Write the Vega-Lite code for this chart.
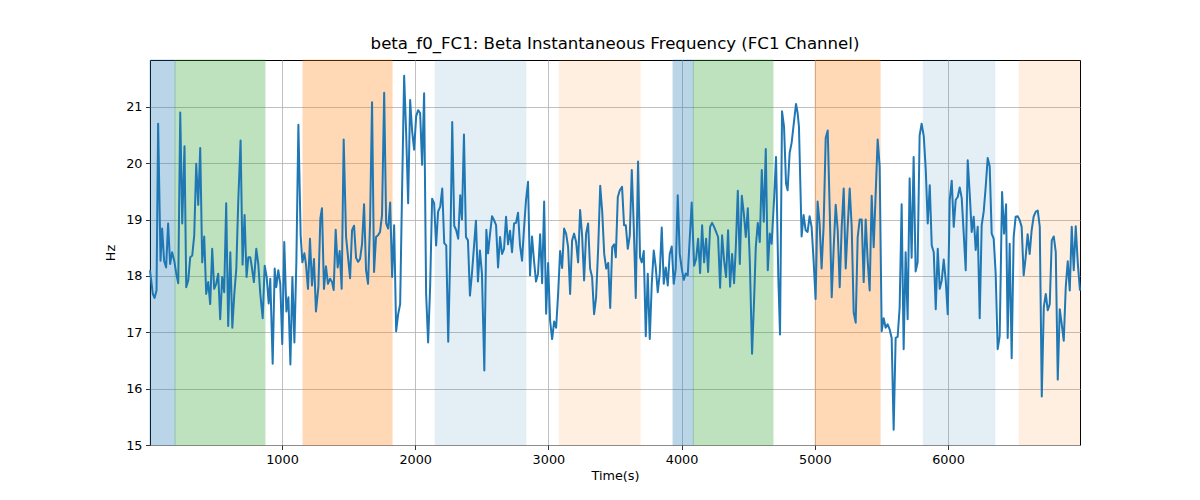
{
  "$schema": "https://vega.github.io/schema/vega-lite/v6.json",
  "autosize": "none",
  "width": 930,
  "height": 385,
  "padding": {"left": 150, "top": 60, "right": 120, "bottom": 55},
  "title": {
    "text": "beta_f0_FC1: Beta Instantaneous Frequency (FC1 Channel)",
    "font": "DejaVu Sans",
    "fontSize": 16.6,
    "fontWeight": "normal",
    "color": "black",
    "offset": 7
  },
  "datasets": {
    "spans": [
      {"start": 9, "end": 197, "stage": "s1"},
      {"start": 197, "end": 872, "stage": "s2"},
      {"start": 1158, "end": 1826, "stage": "s3"},
      {"start": 2149, "end": 2832, "stage": "s4"},
      {"start": 3080, "end": 3690, "stage": "s5"},
      {"start": 3936, "end": 4088, "stage": "s1"},
      {"start": 4088, "end": 4686, "stage": "s2"},
      {"start": 5002, "end": 5490, "stage": "s3"},
      {"start": 5813, "end": 6353, "stage": "s4"},
      {"start": 6533, "end": 6991, "stage": "s5"}
    ],
    "freq": [
      {"t": 9, "hz": 18.1}, {"t": 30, "hz": 17.68}, {"t": 43, "hz": 17.61}, {"t": 58, "hz": 17.74},
      {"t": 70, "hz": 20.7}, {"t": 88, "hz": 18.27}, {"t": 100, "hz": 18.84}, {"t": 115, "hz": 18.27},
      {"t": 130, "hz": 18.15}, {"t": 145, "hz": 18.93}, {"t": 160, "hz": 18.21}, {"t": 175, "hz": 18.42},
      {"t": 191, "hz": 18.27}, {"t": 206, "hz": 18.04}, {"t": 221, "hz": 17.87}, {"t": 236, "hz": 20.9},
      {"t": 251, "hz": 18.93}, {"t": 268, "hz": 20.3}, {"t": 281, "hz": 17.8}, {"t": 296, "hz": 17.92},
      {"t": 311, "hz": 18.33}, {"t": 326, "hz": 18.36}, {"t": 341, "hz": 18.72}, {"t": 356, "hz": 19.99},
      {"t": 371, "hz": 19.26}, {"t": 386, "hz": 20.27}, {"t": 401, "hz": 18.24}, {"t": 416, "hz": 18.7},
      {"t": 431, "hz": 17.68}, {"t": 446, "hz": 17.89}, {"t": 461, "hz": 17.5}, {"t": 476, "hz": 18.48},
      {"t": 491, "hz": 17.77}, {"t": 506, "hz": 17.86}, {"t": 521, "hz": 18.04}, {"t": 536, "hz": 17.23},
      {"t": 551, "hz": 17.98}, {"t": 566, "hz": 17.71}, {"t": 581, "hz": 19.29}, {"t": 596, "hz": 17.11},
      {"t": 612, "hz": 18.42}, {"t": 627, "hz": 17.08}, {"t": 642, "hz": 17.68}, {"t": 657, "hz": 18.13},
      {"t": 672, "hz": 19.35}, {"t": 689, "hz": 20.4}, {"t": 704, "hz": 18.2}, {"t": 719, "hz": 19.08},
      {"t": 734, "hz": 17.98}, {"t": 747, "hz": 18.33}, {"t": 762, "hz": 18.33}, {"t": 772, "hz": 18.18},
      {"t": 789, "hz": 17.89}, {"t": 807, "hz": 18.48}, {"t": 822, "hz": 18.21}, {"t": 837, "hz": 17.68},
      {"t": 855, "hz": 17.25}, {"t": 870, "hz": 18.18}, {"t": 885, "hz": 17.98}, {"t": 900, "hz": 17.51},
      {"t": 912, "hz": 17.95}, {"t": 930, "hz": 16.44}, {"t": 945, "hz": 18.13}, {"t": 957, "hz": 17.8},
      {"t": 972, "hz": 18.1}, {"t": 987, "hz": 17.86}, {"t": 1002, "hz": 16.79}, {"t": 1017, "hz": 18.6},
      {"t": 1033, "hz": 17.37}, {"t": 1048, "hz": 17.62}, {"t": 1063, "hz": 16.43}, {"t": 1078, "hz": 17.98},
      {"t": 1093, "hz": 16.82}, {"t": 1108, "hz": 18.27}, {"t": 1123, "hz": 20.68}, {"t": 1140, "hz": 18.72},
      {"t": 1153, "hz": 18.24}, {"t": 1168, "hz": 18.4}, {"t": 1180, "hz": 18.21}, {"t": 1195, "hz": 17.77},
      {"t": 1210, "hz": 18.66}, {"t": 1225, "hz": 17.83}, {"t": 1240, "hz": 18.3}, {"t": 1255, "hz": 17.37},
      {"t": 1273, "hz": 17.8}, {"t": 1288, "hz": 19.02}, {"t": 1300, "hz": 19.2}, {"t": 1315, "hz": 17.77},
      {"t": 1330, "hz": 18.17}, {"t": 1345, "hz": 17.86}, {"t": 1361, "hz": 17.95}, {"t": 1376, "hz": 17.89},
      {"t": 1388, "hz": 17.75}, {"t": 1403, "hz": 18.82}, {"t": 1418, "hz": 18.15}, {"t": 1433, "hz": 18.44},
      {"t": 1448, "hz": 17.77}, {"t": 1463, "hz": 20.42}, {"t": 1481, "hz": 18.69}, {"t": 1496, "hz": 18.33},
      {"t": 1511, "hz": 17.96}, {"t": 1526, "hz": 18.81}, {"t": 1541, "hz": 18.89}, {"t": 1556, "hz": 18.32},
      {"t": 1571, "hz": 18.25}, {"t": 1586, "hz": 18.3}, {"t": 1601, "hz": 18.57}, {"t": 1616, "hz": 19.27},
      {"t": 1631, "hz": 18.1}, {"t": 1646, "hz": 17.86}, {"t": 1661, "hz": 18.93}, {"t": 1676, "hz": 21.08},
      {"t": 1691, "hz": 18.07}, {"t": 1706, "hz": 18.69}, {"t": 1721, "hz": 18.72}, {"t": 1736, "hz": 18.78},
      {"t": 1751, "hz": 19.08}, {"t": 1767, "hz": 21.25}, {"t": 1782, "hz": 18.93}, {"t": 1797, "hz": 18.84},
      {"t": 1812, "hz": 19.3}, {"t": 1827, "hz": 17.98}, {"t": 1842, "hz": 18.9}, {"t": 1857, "hz": 17.02},
      {"t": 1872, "hz": 17.32}, {"t": 1887, "hz": 17.5}, {"t": 1902, "hz": 19.58}, {"t": 1917, "hz": 21.55},
      {"t": 1932, "hz": 20.54}, {"t": 1947, "hz": 19.29}, {"t": 1962, "hz": 21.12}, {"t": 1977, "hz": 20.57},
      {"t": 1992, "hz": 20.24}, {"t": 2007, "hz": 20.83}, {"t": 2022, "hz": 20.94}, {"t": 2037, "hz": 20.89},
      {"t": 2052, "hz": 19.97}, {"t": 2067, "hz": 21.24}, {"t": 2082, "hz": 17.68}, {"t": 2097, "hz": 16.82},
      {"t": 2112, "hz": 17.8}, {"t": 2127, "hz": 19.37}, {"t": 2142, "hz": 19.29}, {"t": 2157, "hz": 18.54},
      {"t": 2172, "hz": 19.14}, {"t": 2188, "hz": 19.23}, {"t": 2203, "hz": 19.55}, {"t": 2218, "hz": 18.58},
      {"t": 2233, "hz": 18.54}, {"t": 2248, "hz": 16.83}, {"t": 2263, "hz": 18.39}, {"t": 2278, "hz": 20.73},
      {"t": 2293, "hz": 18.89}, {"t": 2308, "hz": 18.81}, {"t": 2323, "hz": 18.66}, {"t": 2338, "hz": 19.43},
      {"t": 2351, "hz": 19.0}, {"t": 2366, "hz": 20.51}, {"t": 2381, "hz": 18.69}, {"t": 2396, "hz": 18.63},
      {"t": 2411, "hz": 17.65}, {"t": 2426, "hz": 18.04}, {"t": 2441, "hz": 18.51}, {"t": 2456, "hz": 18.98},
      {"t": 2471, "hz": 17.9}, {"t": 2486, "hz": 18.45}, {"t": 2501, "hz": 18.04}, {"t": 2519, "hz": 16.32},
      {"t": 2534, "hz": 18.82}, {"t": 2547, "hz": 18.4}, {"t": 2562, "hz": 18.75}, {"t": 2577, "hz": 19.06},
      {"t": 2592, "hz": 18.99}, {"t": 2607, "hz": 18.9}, {"t": 2622, "hz": 18.15}, {"t": 2637, "hz": 18.69},
      {"t": 2652, "hz": 18.39}, {"t": 2667, "hz": 18.48}, {"t": 2682, "hz": 19.05}, {"t": 2697, "hz": 18.56},
      {"t": 2712, "hz": 18.8}, {"t": 2727, "hz": 18.42}, {"t": 2742, "hz": 18.93}, {"t": 2757, "hz": 18.94},
      {"t": 2772, "hz": 19.12}, {"t": 2787, "hz": 18.54}, {"t": 2802, "hz": 18.27}, {"t": 2817, "hz": 18.84},
      {"t": 2832, "hz": 19.35}, {"t": 2847, "hz": 19.67}, {"t": 2862, "hz": 18.01}, {"t": 2877, "hz": 18.7},
      {"t": 2892, "hz": 18.27}, {"t": 2907, "hz": 17.9}, {"t": 2922, "hz": 18.04}, {"t": 2938, "hz": 18.74},
      {"t": 2953, "hz": 17.87}, {"t": 2968, "hz": 19.32}, {"t": 2983, "hz": 17.33}, {"t": 2998, "hz": 18.23},
      {"t": 3013, "hz": 17.2}, {"t": 3028, "hz": 16.88}, {"t": 3043, "hz": 17.19}, {"t": 3058, "hz": 17.08},
      {"t": 3073, "hz": 17.68}, {"t": 3088, "hz": 18.44}, {"t": 3103, "hz": 18.14}, {"t": 3118, "hz": 18.84},
      {"t": 3133, "hz": 18.75}, {"t": 3148, "hz": 18.51}, {"t": 3163, "hz": 17.68}, {"t": 3178, "hz": 18.63},
      {"t": 3193, "hz": 18.75}, {"t": 3208, "hz": 18.6}, {"t": 3223, "hz": 18.24}, {"t": 3238, "hz": 19.17},
      {"t": 3253, "hz": 18.72}, {"t": 3268, "hz": 17.92}, {"t": 3283, "hz": 18.75}, {"t": 3298, "hz": 18.93},
      {"t": 3313, "hz": 18.13}, {"t": 3328, "hz": 17.98}, {"t": 3343, "hz": 17.32}, {"t": 3358, "hz": 17.62},
      {"t": 3374, "hz": 18.51}, {"t": 3389, "hz": 19.6}, {"t": 3404, "hz": 19.14}, {"t": 3419, "hz": 18.39},
      {"t": 3434, "hz": 18.13}, {"t": 3449, "hz": 18.23}, {"t": 3464, "hz": 17.43}, {"t": 3479, "hz": 18.51},
      {"t": 3494, "hz": 18.56}, {"t": 3506, "hz": 18.33}, {"t": 3521, "hz": 19.4}, {"t": 3536, "hz": 19.52},
      {"t": 3553, "hz": 19.58}, {"t": 3568, "hz": 18.9}, {"t": 3581, "hz": 18.9}, {"t": 3596, "hz": 18.48},
      {"t": 3611, "hz": 18.72}, {"t": 3626, "hz": 19.88}, {"t": 3641, "hz": 18.87}, {"t": 3656, "hz": 17.61},
      {"t": 3673, "hz": 20.03}, {"t": 3688, "hz": 18.33}, {"t": 3701, "hz": 18.24}, {"t": 3716, "hz": 18.44},
      {"t": 3731, "hz": 16.93}, {"t": 3746, "hz": 18.04}, {"t": 3761, "hz": 16.88}, {"t": 3776, "hz": 17.86},
      {"t": 3791, "hz": 18.45}, {"t": 3806, "hz": 18.15}, {"t": 3821, "hz": 17.71}, {"t": 3836, "hz": 18.04},
      {"t": 3851, "hz": 18.86}, {"t": 3866, "hz": 17.86}, {"t": 3881, "hz": 18.15}, {"t": 3896, "hz": 17.83},
      {"t": 3911, "hz": 18.39}, {"t": 3926, "hz": 18.52}, {"t": 3941, "hz": 17.86}, {"t": 3956, "hz": 18.13},
      {"t": 3971, "hz": 19.43}, {"t": 3986, "hz": 18.39}, {"t": 4001, "hz": 18.13}, {"t": 4016, "hz": 17.93},
      {"t": 4031, "hz": 18.04}, {"t": 4046, "hz": 18.01}, {"t": 4061, "hz": 18.66}, {"t": 4076, "hz": 19.3},
      {"t": 4094, "hz": 18.18}, {"t": 4109, "hz": 18.3}, {"t": 4124, "hz": 18.66}, {"t": 4139, "hz": 18.05},
      {"t": 4154, "hz": 18.9}, {"t": 4169, "hz": 18.24}, {"t": 4184, "hz": 18.66}, {"t": 4199, "hz": 18.07},
      {"t": 4214, "hz": 18.87}, {"t": 4229, "hz": 18.94}, {"t": 4244, "hz": 18.87}, {"t": 4259, "hz": 18.78},
      {"t": 4274, "hz": 18.69}, {"t": 4289, "hz": 17.79}, {"t": 4304, "hz": 18.72}, {"t": 4319, "hz": 18.27},
      {"t": 4334, "hz": 17.98}, {"t": 4349, "hz": 18.81}, {"t": 4364, "hz": 17.81}, {"t": 4379, "hz": 18.39},
      {"t": 4394, "hz": 17.87}, {"t": 4407, "hz": 18.51}, {"t": 4422, "hz": 19.51}, {"t": 4437, "hz": 18.21},
      {"t": 4452, "hz": 19.42}, {"t": 4467, "hz": 19.11}, {"t": 4482, "hz": 18.69}, {"t": 4497, "hz": 19.2},
      {"t": 4512, "hz": 18.27}, {"t": 4529, "hz": 16.62}, {"t": 4544, "hz": 17.56}, {"t": 4557, "hz": 18.51},
      {"t": 4572, "hz": 18.94}, {"t": 4587, "hz": 18.6}, {"t": 4602, "hz": 19.88}, {"t": 4617, "hz": 18.96},
      {"t": 4632, "hz": 20.25}, {"t": 4647, "hz": 18.1}, {"t": 4662, "hz": 18.75}, {"t": 4676, "hz": 18.57},
      {"t": 4694, "hz": 19.35}, {"t": 4709, "hz": 20.11}, {"t": 4726, "hz": 17.98}, {"t": 4739, "hz": 16.96},
      {"t": 4754, "hz": 20.92}, {"t": 4769, "hz": 20.65}, {"t": 4784, "hz": 19.64}, {"t": 4796, "hz": 19.52},
      {"t": 4811, "hz": 20.18}, {"t": 4826, "hz": 20.36}, {"t": 4844, "hz": 20.74}, {"t": 4859, "hz": 21.05},
      {"t": 4871, "hz": 20.89}, {"t": 4881, "hz": 20.65}, {"t": 4901, "hz": 18.7}, {"t": 4916, "hz": 19.08},
      {"t": 4931, "hz": 18.81}, {"t": 4946, "hz": 18.78}, {"t": 4961, "hz": 19.06}, {"t": 4976, "hz": 18.87},
      {"t": 4991, "hz": 18.27}, {"t": 5006, "hz": 17.59}, {"t": 5021, "hz": 19.32}, {"t": 5036, "hz": 18.93},
      {"t": 5051, "hz": 18.13}, {"t": 5066, "hz": 18.87}, {"t": 5082, "hz": 20.45}, {"t": 5097, "hz": 20.58},
      {"t": 5112, "hz": 19.17}, {"t": 5127, "hz": 17.62}, {"t": 5142, "hz": 18.51}, {"t": 5157, "hz": 19.26},
      {"t": 5172, "hz": 18.81}, {"t": 5187, "hz": 17.8}, {"t": 5202, "hz": 18.87}, {"t": 5217, "hz": 19.55},
      {"t": 5232, "hz": 18.13}, {"t": 5247, "hz": 18.87}, {"t": 5262, "hz": 19.55}, {"t": 5277, "hz": 18.87},
      {"t": 5292, "hz": 17.35}, {"t": 5307, "hz": 17.17}, {"t": 5322, "hz": 18.69}, {"t": 5337, "hz": 19.0},
      {"t": 5352, "hz": 19.0}, {"t": 5367, "hz": 17.89}, {"t": 5382, "hz": 19.0}, {"t": 5397, "hz": 18.27},
      {"t": 5412, "hz": 17.74}, {"t": 5427, "hz": 19.42}, {"t": 5442, "hz": 18.51}, {"t": 5457, "hz": 19.46},
      {"t": 5472, "hz": 20.42}, {"t": 5487, "hz": 19.94}, {"t": 5502, "hz": 17.02}, {"t": 5517, "hz": 17.25},
      {"t": 5532, "hz": 17.08}, {"t": 5547, "hz": 17.14}, {"t": 5562, "hz": 17.05}, {"t": 5577, "hz": 16.9},
      {"t": 5592, "hz": 15.27}, {"t": 5607, "hz": 16.9}, {"t": 5622, "hz": 16.92}, {"t": 5637, "hz": 17.44},
      {"t": 5652, "hz": 19.27}, {"t": 5667, "hz": 16.7}, {"t": 5682, "hz": 18.42}, {"t": 5697, "hz": 17.23},
      {"t": 5712, "hz": 19.73}, {"t": 5727, "hz": 18.32}, {"t": 5742, "hz": 20.11}, {"t": 5757, "hz": 18.08},
      {"t": 5772, "hz": 18.24}, {"t": 5787, "hz": 20.49}, {"t": 5802, "hz": 20.7}, {"t": 5818, "hz": 20.48},
      {"t": 5833, "hz": 19.88}, {"t": 5848, "hz": 18.93}, {"t": 5863, "hz": 19.61}, {"t": 5878, "hz": 18.54},
      {"t": 5893, "hz": 18.42}, {"t": 5908, "hz": 17.41}, {"t": 5923, "hz": 18.48}, {"t": 5938, "hz": 17.77},
      {"t": 5953, "hz": 17.92}, {"t": 5968, "hz": 18.29}, {"t": 5983, "hz": 17.92}, {"t": 5998, "hz": 17.32},
      {"t": 6013, "hz": 19.35}, {"t": 6028, "hz": 19.69}, {"t": 6043, "hz": 18.87}, {"t": 6058, "hz": 19.35},
      {"t": 6073, "hz": 19.4}, {"t": 6088, "hz": 19.57}, {"t": 6103, "hz": 19.38}, {"t": 6118, "hz": 18.75},
      {"t": 6133, "hz": 18.1}, {"t": 6148, "hz": 20.05}, {"t": 6163, "hz": 19.46}, {"t": 6178, "hz": 18.78},
      {"t": 6193, "hz": 19.05}, {"t": 6208, "hz": 18.46}, {"t": 6223, "hz": 18.87}, {"t": 6238, "hz": 17.25},
      {"t": 6253, "hz": 18.9}, {"t": 6268, "hz": 19.14}, {"t": 6283, "hz": 19.58}, {"t": 6298, "hz": 20.09},
      {"t": 6313, "hz": 19.94}, {"t": 6328, "hz": 18.75}, {"t": 6343, "hz": 18.66}, {"t": 6358, "hz": 18.04},
      {"t": 6373, "hz": 16.7}, {"t": 6388, "hz": 16.93}, {"t": 6406, "hz": 19.49}, {"t": 6421, "hz": 18.75},
      {"t": 6436, "hz": 19.27}, {"t": 6448, "hz": 16.9}, {"t": 6463, "hz": 18.57}, {"t": 6478, "hz": 16.54},
      {"t": 6493, "hz": 18.69}, {"t": 6508, "hz": 19.05}, {"t": 6523, "hz": 19.06}, {"t": 6538, "hz": 18.99},
      {"t": 6553, "hz": 18.87}, {"t": 6568, "hz": 18.01}, {"t": 6583, "hz": 18.33}, {"t": 6598, "hz": 18.74},
      {"t": 6613, "hz": 18.39}, {"t": 6628, "hz": 18.81}, {"t": 6643, "hz": 19.05}, {"t": 6659, "hz": 19.14},
      {"t": 6674, "hz": 19.16}, {"t": 6689, "hz": 18.87}, {"t": 6704, "hz": 15.86}, {"t": 6719, "hz": 17.44},
      {"t": 6734, "hz": 17.68}, {"t": 6749, "hz": 17.39}, {"t": 6764, "hz": 17.5}, {"t": 6779, "hz": 18.63},
      {"t": 6794, "hz": 18.7}, {"t": 6809, "hz": 18.42}, {"t": 6824, "hz": 16.16}, {"t": 6839, "hz": 17.41},
      {"t": 6854, "hz": 17.14}, {"t": 6869, "hz": 16.85}, {"t": 6884, "hz": 17.8}, {"t": 6899, "hz": 18.26},
      {"t": 6914, "hz": 17.74}, {"t": 6929, "hz": 18.87}, {"t": 6944, "hz": 18.1}, {"t": 6959, "hz": 18.88},
      {"t": 6974, "hz": 18.24}, {"t": 6991, "hz": 17.74}
    ]
  },
  "layer": [
    {
      "data": {"name": "spans"},
      "transform": [{"filter": "datum.stage == 's1' || datum.stage == 's2' || datum.stage == 's3'"}],
      "mark": {"type": "rect", "strokeWidth": 1, "opacity": 0.3},
      "encoding": {
        "x": {
          "field": "start",
          "type": "quantitative",
          "scale": {"domain": [9, 6991], "nice": false, "zero": false},
          "axis": {"values": [1000, 2000, 3000, 4000, 5000, 6000], "format": "d", "title": "Time(s)"}
        },
        "x2": {"field": "end"},
        "color": {
          "field": "stage",
          "type": "nominal",
          "scale": {
            "domain": ["s1", "s2", "s3", "s4", "s5"],
            "range": ["#1f77b4", "#2ca02c", "#ff7f0e", "#1f77b4", "#ff7f0e"]
          },
          "legend": null
        },
        "stroke": {
          "field": "stage",
          "type": "nominal",
          "scale": {
            "domain": ["s1", "s2", "s3", "s4", "s5"],
            "range": ["#1f77b4", "#2ca02c", "#ff7f0e", "#1f77b4", "#ff7f0e"]
          },
          "legend": null
        }
      }
    },
    {
      "data": {"name": "spans"},
      "transform": [{"filter": "datum.stage == 's4' || datum.stage == 's5'"}],
      "mark": {"type": "rect", "strokeWidth": 0.5, "opacity": 0.12},
      "encoding": {
        "x": {"field": "start", "type": "quantitative"},
        "x2": {"field": "end"},
        "color": {"field": "stage", "type": "nominal", "legend": null},
        "stroke": {"field": "stage", "type": "nominal", "legend": null}
      }
    },
    {
      "data": {"name": "freq"},
      "mark": {"type": "line", "color": "#1f77b4", "strokeWidth": 2, "strokeJoin": "round"},
      "encoding": {
        "x": {"field": "t", "type": "quantitative"},
        "y": {
          "field": "hz",
          "type": "quantitative",
          "scale": {"domain": [15, 21.83], "nice": false, "zero": false},
          "axis": {"values": [15, 16, 17, 18, 19, 20, 21], "title": "Hz"}
        }
      }
    }
  ],
  "config": {
    "view": {"stroke": "black", "strokeWidth": 1},
    "axis": {
      "domain": false,
      "grid": true,
      "gridColor": "#b0b0b0",
      "gridWidth": 0.8,
      "tickColor": "black",
      "tickSize": 4.5,
      "tickWidth": 0.8,
      "labelFont": "DejaVu Sans",
      "labelFontSize": 12.8,
      "labelColor": "black",
      "labelPadding": 3.5,
      "titleFont": "DejaVu Sans",
      "titleFontSize": 12.8,
      "titleFontWeight": "normal",
      "titleColor": "black"
    },
    "axisX": {"titlePadding": 4, "labelFlush": false},
    "axisY": {"titlePadding": 8, "labelFlush": false}
  }
}
